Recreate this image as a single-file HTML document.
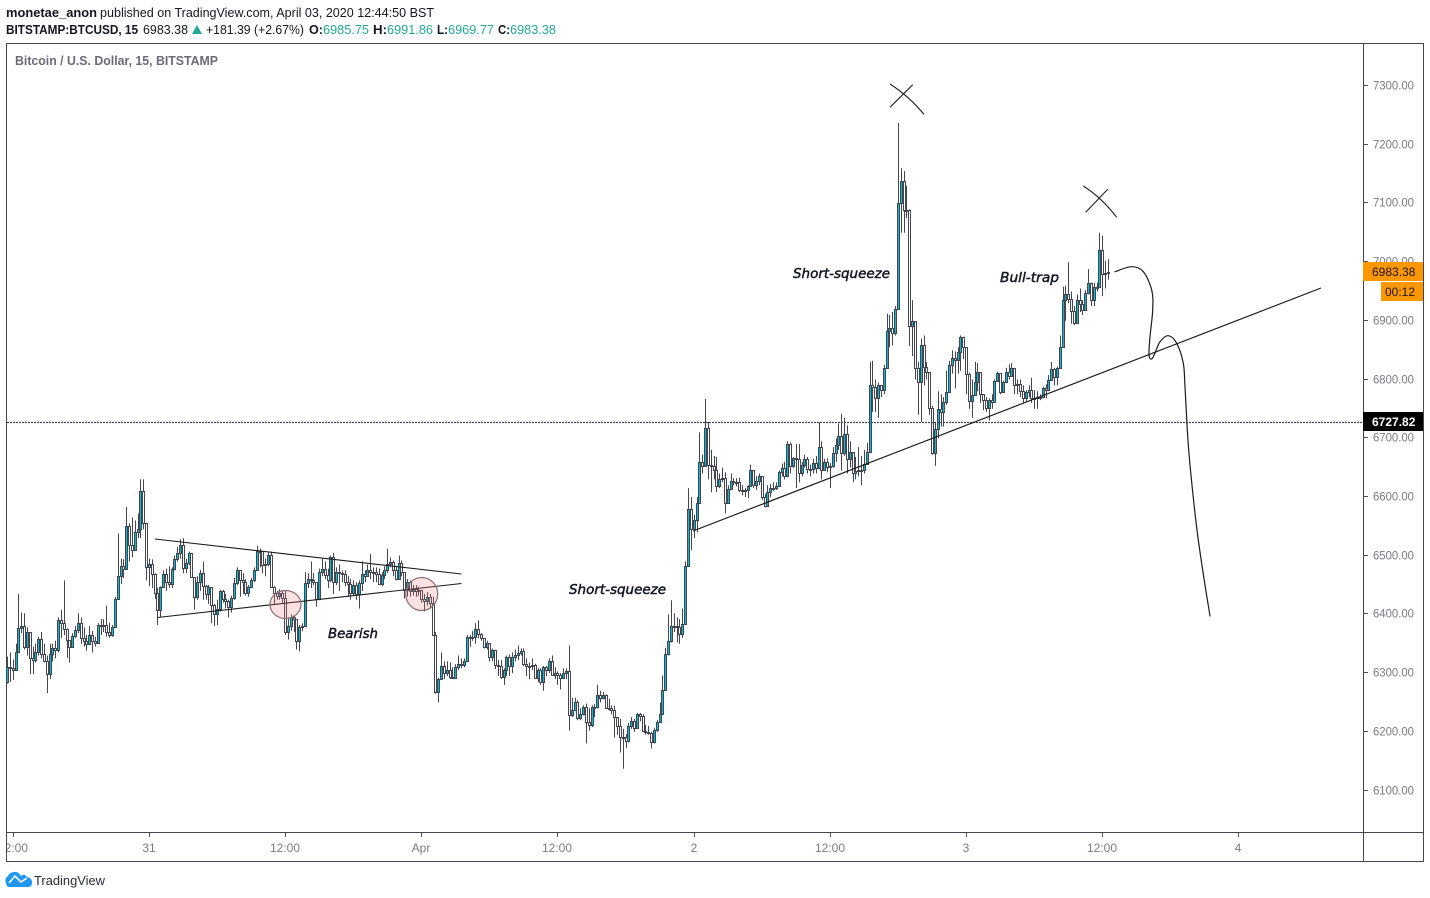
<!DOCTYPE html>
<html lang="en">
<head>
<meta charset="utf-8">
<title>Bitcoin / U.S. Dollar, 15, BITSTAMP</title>
<style>
html,body{margin:0;padding:0;background:#fff;width:1430px;height:898px;overflow:hidden}
svg{display:block}
text{font-family:"Liberation Sans",sans-serif}
.hd{font-size:12.5px;fill:#131722}
.b{font-weight:bold}
.tl{fill:#26a69a}
.ax{font-size:12px;fill:#787b86}
.note{font-family:"DejaVu Sans","Liberation Sans",sans-serif;font-style:italic;font-size:13px;fill:#131722;stroke:#131722;stroke-width:.45}
</style>
</head>
<body>
<svg id="root" xmlns="http://www.w3.org/2000/svg" width="1430" height="898" viewBox="0 0 1430 898">
  <defs>
    <clipPath id="paneClip"><rect x="7" y="44" width="1356" height="788"/></clipPath>
    <clipPath id="timeClip"><rect x="7" y="833" width="1356" height="28"/></clipPath>
  </defs>

  <g>
    <text class="hd b" x="6" y="17" textLength="91" lengthAdjust="spacingAndGlyphs">monetae_anon</text>
    <text class="hd" x="100" y="17" textLength="334" lengthAdjust="spacingAndGlyphs">published on TradingView.com, April 03, 2020 12:44:50 BST</text>
  </g>
  <g>
    <text class="hd b" x="6" y="34" textLength="132" lengthAdjust="spacingAndGlyphs">BITSTAMP:BTCUSD, 15</text>
    <text class="hd" x="143" y="34" textLength="45" lengthAdjust="spacingAndGlyphs">6983.38</text>
    <polygon points="192,34 202,34 197,25" fill="#26a69a"/>
    <text class="hd" x="206" y="34" textLength="98" lengthAdjust="spacingAndGlyphs">+181.39 (+2.67%)</text>
    <text class="hd b" x="309" y="34" textLength="14" lengthAdjust="spacingAndGlyphs">O:</text>
    <text class="hd tl" x="323" y="34" textLength="46" lengthAdjust="spacingAndGlyphs">6985.75</text>
    <text class="hd b" x="373" y="34" textLength="14" lengthAdjust="spacingAndGlyphs">H:</text>
    <text class="hd tl" x="387" y="34" textLength="46" lengthAdjust="spacingAndGlyphs">6991.86</text>
    <text class="hd b" x="437" y="34" textLength="11" lengthAdjust="spacingAndGlyphs">L:</text>
    <text class="hd tl" x="448" y="34" textLength="46" lengthAdjust="spacingAndGlyphs">6969.77</text>
    <text class="hd b" x="498" y="34" textLength="12" lengthAdjust="spacingAndGlyphs">C:</text>
    <text class="hd tl" x="510" y="34" textLength="46" lengthAdjust="spacingAndGlyphs">6983.38</text>
  </g>

  <rect x="6.5" y="43.5" width="1417" height="818" fill="#fff" stroke="#434651"/>
  <text x="15" y="65" font-size="12.5" font-weight="bold" fill="#6a6d78" textLength="203" lengthAdjust="spacingAndGlyphs">Bitcoin / U.S. Dollar, 15, BITSTAMP</text>

  <g id="priceAxis"></g>
  <g id="timeAxis"></g>

  <g id="pane" clip-path="url(#paneClip)">
    <g id="candles"></g>
    <line id="baseLine" x1="7" x2="1363" stroke="#434651" stroke-width="1.2" stroke-dasharray="2 1"/>
    <line x1="155" y1="539" x2="461.5" y2="574" stroke="#1c1c1c" stroke-width="1.1"/>
    <line x1="157.5" y1="617.5" x2="461.5" y2="583.5" stroke="#1c1c1c" stroke-width="1.1"/>
    <line x1="693" y1="531" x2="1321" y2="288" stroke="#1c1c1c" stroke-width="1.2"/>
    <ellipse cx="285.5" cy="604.5" rx="15.5" ry="14" fill="rgba(236,120,120,.22)" stroke="#8c6f72" stroke-width="1.2"/>
    <ellipse cx="421.7" cy="594" rx="16" ry="16.5" fill="rgba(236,120,120,.22)" stroke="#8c6f72" stroke-width="1.2"/>
    <path d="M890,84 Q910,97 924,114.5" fill="none" stroke="#222" stroke-width="1.1"/>
    <path d="M912.7,84.7 L890,107.3" fill="none" stroke="#222" stroke-width="1.1"/>
    <path d="M1083.3,186 Q1102,198 1116.7,217.3" fill="none" stroke="#222" stroke-width="1.1"/>
    <path d="M1107.7,189.3 L1085.7,212.3" fill="none" stroke="#222" stroke-width="1.1"/>
    <path id="brush" fill="none" stroke="#1c1c1c" stroke-width="1.2" stroke-linecap="round"/>
    <text class="note" x="793" y="278" textLength="97" lengthAdjust="spacingAndGlyphs">Short-squeeze</text>
    <text class="note" x="569" y="594" textLength="97" lengthAdjust="spacingAndGlyphs">Short-squeeze</text>
    <text class="note" x="328" y="638" textLength="50" lengthAdjust="spacingAndGlyphs">Bearish</text>
    <text class="note" x="1000" y="282" textLength="59" lengthAdjust="spacingAndGlyphs">Bull-trap</text>
  </g>

  <line x1="1363.5" y1="44" x2="1363.5" y2="861" stroke="#434651"/>
  <line x1="7" y1="832.5" x2="1423" y2="832.5" stroke="#434651"/>

  <g>
    <rect x="1363" y="262" width="60" height="19" fill="#ff9800"/>
    <text x="1372" y="276" font-size="12" fill="#1a1200">6983.38</text>
  </g>
  <g>
    <rect x="1381" y="282" width="42" height="19" fill="#ff9800"/>
    <text x="1385" y="296" font-size="12" fill="#1a1200">00:12</text>
  </g>
  <g>
    <rect x="1363" y="412" width="60" height="19" fill="#000"/>
    <text x="1372" y="426" font-size="12" font-weight="bold" fill="#fff">6727.82</text>
  </g>

  <g>
    <path d="M6,883 a5,5 0 0 1 2,-7 a7,7 0 0 1 6,-4 q4,-1 7,4 q3,-3 6,1 a5,5 0 0 1 5,5 a4,4 0 0 1 -3,5 h-20 a4,4 0 0 1 -3,-4z" fill="#2196f3"/>
    <path d="M9,883 L15,876 L21,882 L27,878" fill="none" stroke="#fff" stroke-width="1.6"/>
    <text x="34" y="885" font-size="13" fill="#2a2e39" textLength="71" lengthAdjust="spacingAndGlyphs">TradingView</text>
  </g>
</svg>

<script>
const firstOpen = 6285;
const closes = [
6311,6309,6305,6336,6376,6380,6344,6370,6325,6322,
6336,6358,6332,6320,6298,6332,6343,6340,6390,6385,
6375,6356,6345,6363,6374,6385,6359,6355,6350,6365,
6354,6352,6382,6382,6382,6370,6365,6378,6427,6465,
6482,6478,6550,6518,6510,6541,6545,6610,6556,6481,
6485,6468,6437,6408,6446,6469,6455,6452,6478,6495,
6505,6519,6479,6488,6504,6463,6430,6455,6470,6448,
6435,6447,6416,6400,6410,6440,6427,6423,6412,6428,
6454,6475,6458,6456,6436,6447,6459,6476,6508,6508,
6484,6485,6502,6447,6436,6432,6437,6428,6370,6381,
6395,6392,6354,6378,6380,6453,6460,6458,6456,6427,
6472,6478,6467,6459,6497,6455,6472,6470,6468,6456,
6452,6437,6450,6435,6453,6468,6466,6475,6473,6472,
6468,6452,6467,6475,6486,6490,6475,6461,6488,6472,
6441,6455,6440,6443,6440,6441,6427,6422,6430,6420,
6365,6268,6290,6312,6300,6305,6294,6292,6310,6316,
6314,6320,6362,6362,6362,6375,6366,6360,6344,6352,
6327,6340,6314,6312,6294,6305,6327,6312,6327,6330,
6335,6338,6315,6312,6312,6313,6291,6306,6284,6310,
6305,6321,6297,6300,6296,6292,6301,6303,6228,6238,
6250,6224,6231,6243,6216,6211,6243,6242,6262,6257,
6262,6241,6240,6237,6226,6210,6192,6192,6185,6210,
6219,6206,6230,6227,6202,6199,6198,6182,6203,6216,
6231,6271,6332,6355,6380,6380,6379,6366,6383,6483,
6579,6545,6560,6589,6660,6652,6718,6654,6652,6646,
6618,6630,6633,6590,6613,6628,6626,6626,6612,6610,
6612,6618,6646,6621,6627,6635,6600,6584,6608,6616,
6616,6618,6642,6650,6636,6690,6653,6666,6665,6640,
6655,6665,6648,6647,6658,6650,6685,6646,6660,6651,
6652,6675,6688,6703,6675,6708,6665,6677,6640,6645,
6646,6646,6656,6677,6790,6788,6768,6790,6782,6820,
6882,6888,6880,6920,7101,7139,7088,7088,6891,6900,
6820,6796,6858,6822,6813,6751,6675,6716,6750,6745,
6762,6779,6825,6836,6833,6847,6873,6856,6810,6764,
6774,6795,6813,6775,6765,6752,6765,6762,6797,6811,
6778,6796,6813,6806,6820,6791,6793,6780,6768,6778,
6782,6768,6769,6770,6770,6785,6782,6800,6818,6805,
6820,6855,6935,6945,6937,6916,6896,6936,6929,6918,
6947,6965,6935,6957,6958,7020,6980,6982,6983.38];
const highs = [
6328,6335,6323,6350,6435,6403,6402,6378,6368,6345,
6350,6362,6370,6350,6330,6350,6350,6355,6395,6408,
6458,6376,6350,6368,6380,6402,6395,6378,6365,6380,
6372,6362,6385,6392,6392,6415,6386,6382,6430,6538,
6495,6494,6583,6555,6565,6560,6572,6630,6630,6556,
6495,6494,6470,6445,6448,6475,6478,6482,6480,6500,
6515,6528,6530,6495,6507,6505,6462,6465,6476,6490,
6450,6450,6440,6418,6425,6442,6442,6435,6425,6432,
6462,6480,6475,6470,6460,6450,6462,6480,6517,6512,
6507,6495,6505,6507,6448,6440,6443,6440,6440,6395,
6400,6398,6392,6382,6385,6472,6470,6490,6470,6450,
6478,6495,6490,6478,6500,6505,6480,6485,6475,6475,
6465,6460,6458,6455,6458,6490,6475,6485,6503,6480,
6480,6478,6472,6482,6512,6497,6492,6482,6500,6492,
6472,6460,6458,6450,6450,6447,6442,6435,6438,6435,
6430,6370,6292,6335,6320,6320,6318,6310,6315,6330,
6325,6325,6365,6365,6372,6385,6390,6368,6360,6355,
6350,6342,6340,6322,6322,6308,6330,6332,6335,6340,
6347,6342,6342,6325,6318,6325,6316,6309,6308,6312,
6312,6325,6330,6310,6303,6300,6308,6308,6347,6258,
6258,6254,6240,6245,6248,6240,6245,6247,6280,6270,
6268,6264,6256,6245,6244,6225,6222,6205,6196,6215,
6225,6222,6232,6232,6230,6212,6210,6200,6207,6220,
6250,6296,6343,6400,6424,6402,6395,6392,6410,6490,
6615,6600,6570,6600,6710,6672,6767,6728,6680,6670,
6668,6640,6650,6642,6620,6640,6632,6632,6633,6620,
6615,6620,6655,6640,6635,6640,6632,6605,6620,6622,
6625,6625,6645,6657,6660,6695,6693,6668,6690,6690,
6660,6672,6668,6655,6665,6670,6727,6695,6665,6666,
6658,6685,6700,6725,6742,6735,6722,6695,6668,6668,
6685,6670,6680,6692,6830,6832,6800,6795,6790,6825,
6912,6910,6915,6925,7237,7160,7155,7130,7090,6935,
6900,6830,6870,6875,6830,6810,6755,6728,6780,6775,
6770,6815,6832,6850,6848,6855,6875,6873,6845,6812,
6800,6830,6828,6805,6775,6770,6768,6775,6800,6814,
6808,6798,6820,6826,6828,6820,6800,6800,6790,6782,
6790,6803,6782,6780,6775,6788,6792,6808,6830,6820,
6822,6875,6958,6960,7000,6950,6925,6945,6955,6935,
6952,6988,6965,6965,6965,7050,7045,7002,7005];
const lows = [
6282,6285,6288,6305,6336,6368,6340,6330,6298,6298,
6318,6330,6325,6318,6266,6290,6320,6325,6335,6360,
6365,6326,6318,6345,6360,6368,6350,6345,6338,6350,
6335,6345,6350,6365,6370,6362,6360,6362,6381,6431,
6452,6462,6478,6490,6497,6512,6530,6530,6545,6458,
6448,6445,6426,6382,6395,6445,6440,6445,6445,6475,
6490,6495,6470,6470,6484,6462,6408,6425,6440,6425,
6425,6418,6385,6380,6382,6405,6420,6410,6395,6403,
6425,6450,6430,6435,6432,6430,6445,6455,6476,6480,
6470,6465,6482,6445,6418,6425,6425,6420,6365,6357,
6372,6370,6340,6337,6372,6378,6445,6445,6450,6413,
6424,6465,6460,6445,6455,6435,6450,6440,6455,6448,
6430,6425,6433,6425,6410,6440,6455,6465,6460,6455,
6455,6450,6448,6460,6470,6480,6465,6458,6460,6465,
6427,6430,6430,6432,6430,6432,6420,6405,6415,6410,
6364,6265,6250,6290,6290,6295,6290,6290,6295,6305,
6308,6310,6320,6345,6355,6350,6360,6355,6342,6340,
6320,6320,6307,6295,6290,6280,6295,6295,6300,6320,
6322,6330,6312,6295,6290,6305,6290,6285,6280,6270,
6295,6300,6295,6290,6280,6272,6290,6290,6202,6225,
6235,6220,6220,6228,6180,6202,6208,6225,6240,6250,
6255,6240,6236,6230,6190,6195,6165,6137,6172,6182,
6205,6200,6205,6218,6200,6195,6195,6172,6180,6200,
6215,6230,6275,6330,6352,6370,6352,6350,6360,6383,
6483,6510,6530,6540,6590,6640,6670,6630,6608,6630,
6608,6615,6625,6572,6590,6612,6620,6618,6608,6603,
6600,6598,6625,6615,6612,6620,6595,6582,6585,6600,
6610,6612,6618,6635,6630,6635,6640,6650,6615,6625,
6635,6650,6640,6635,6640,6640,6650,6630,6645,6642,
6615,6650,6660,6680,6645,6670,6640,6650,6625,6630,
6635,6620,6640,6655,6680,6745,6745,6735,6770,6775,
6828,6855,6858,6875,6920,7050,7050,7075,6857,6840,
6800,6740,6728,6790,6800,6740,6672,6653,6700,6720,
6720,6757,6778,6810,6785,6810,6815,6835,6775,6750,
6735,6785,6780,6760,6748,6745,6730,6750,6762,6797,
6775,6778,6795,6800,6805,6775,6775,6770,6760,6762,
6770,6760,6750,6750,6765,6768,6768,6780,6800,6790,
6790,6820,6860,6900,6930,6895,6893,6895,6915,6910,
6918,6945,6925,6925,6950,6958,6942,6955,6970];
const priceTicks = [7300,7200,7100,7000,6900,6800,6700,6600,6500,6400,6300,6200,6100];
const timeTickBars = [2,50,98,146,194,242,290,338,386,434];
const timeTickLabels = ["12:00","31","12:00","Apr","12:00","2","12:00","3","12:00","4"];
const referencePrice = 6727.82;

const NS = 'http://www.w3.org/2000/svg';
function yOf(p){ return 86 + (7300 - p) * 0.5871; }
function xOf(i){ return 7 + 2.8375 * i; }
function mk(tag, attrs){
  const el = document.createElementNS(NS, tag);
  for (const k in attrs) el.setAttribute(k, attrs[k]);
  return el;
}

const candleLayer = document.getElementById('candles');
const ink = '#434651';
closes.forEach(function(c, i){
  const o = i === 0 ? firstOpen : closes[i - 1];
  const px = Math.round(xOf(i));
  const g = mk('g', {});
  
  
  const wick = mk('line', {x1: px + .5, x2: px + .5, y1: yOf(highs[i]), y2: yOf(lows[i]), stroke: ink, 'stroke-width': 1});
  
  
  g.appendChild(wick);
  const top = Math.round(yOf(Math.max(o, c))) + .5;
  const bot = Math.round(yOf(Math.min(o, c))) + .5;
  const body = mk('rect', {x: px - .5, y: top, width: 2, height: Math.max(bot - top, 1), fill: c >= o ? '#00bcd4' : '#ffffff', stroke: ink, 'stroke-width': 1});
  
  
  g.appendChild(body);
  candleLayer.appendChild(g);
});

const baseLine = document.getElementById('baseLine');
const baseY = Math.round(yOf(referencePrice)) + .5;
baseLine.setAttribute('y1', baseY);
baseLine.setAttribute('y2', baseY);

const priceAxis = document.getElementById('priceAxis');
priceTicks.forEach(function(p){
  const y = Math.round(yOf(p)) + .5;
  const t = mk('line', {x1: 1363, x2: 1368, y1: y - 1, y2: y - 1, stroke: '#50535e'});
  
  
  priceAxis.appendChild(t);
  const l = mk('text', {x: 1373, y: y + 3, 'class': 'ax', textLength: 41, lengthAdjust: 'spacingAndGlyphs'});
  
  
  l.textContent = p.toFixed(2);
  priceAxis.appendChild(l);
});

const timeAxis = document.getElementById('timeAxis');
timeAxis.setAttribute('clip-path', 'url(#timeClip)');
timeTickBars.forEach(function(b, i){
  const x = Math.round(xOf(b)) + .5;
  const t = mk('line', {x1: x, x2: x, y1: 832, y2: 837, stroke: '#50535e'});
  
  
  timeAxis.appendChild(t);
  const l = mk('text', {x: x - .5, y: 852, 'class': 'ax', 'text-anchor': 'middle'});
  
  
  l.textContent = timeTickLabels[i];
  timeAxis.appendChild(l);
});

/* hand-drawn projected path, smoothed through its sketch points */
const sketch = [[1115,271.7],[1131.7,266.7],[1143.3,271.7],[1151.7,290],[1152.7,310],[1150,336.7],[1149,355],[1151.7,359],[1155,353],[1160,341.7],[1168.3,335.7],[1176.7,343.3],[1183.3,363.3],[1185,386.7],[1187.3,430],[1190,465],[1197,530],[1205,585],[1210,616]];
let d = 'M' + sketch[0].join(',');
for (let i = 0; i < sketch.length - 1; i++) {
  const p0 = sketch[Math.max(i - 1, 0)], p1 = sketch[i], p2 = sketch[i + 1], p3 = sketch[Math.min(i + 2, sketch.length - 1)];
  d += ' C' + (p1[0] + (p2[0] - p0[0]) / 6).toFixed(1) + ',' + (p1[1] + (p2[1] - p0[1]) / 6).toFixed(1) + ' ' +
       (p2[0] - (p3[0] - p1[0]) / 6).toFixed(1) + ',' + (p2[1] - (p3[1] - p1[1]) / 6).toFixed(1) + ' ' + p2[0] + ',' + p2[1];
}
document.getElementById('brush').setAttribute('d', d);
</script>
</body>
</html>
